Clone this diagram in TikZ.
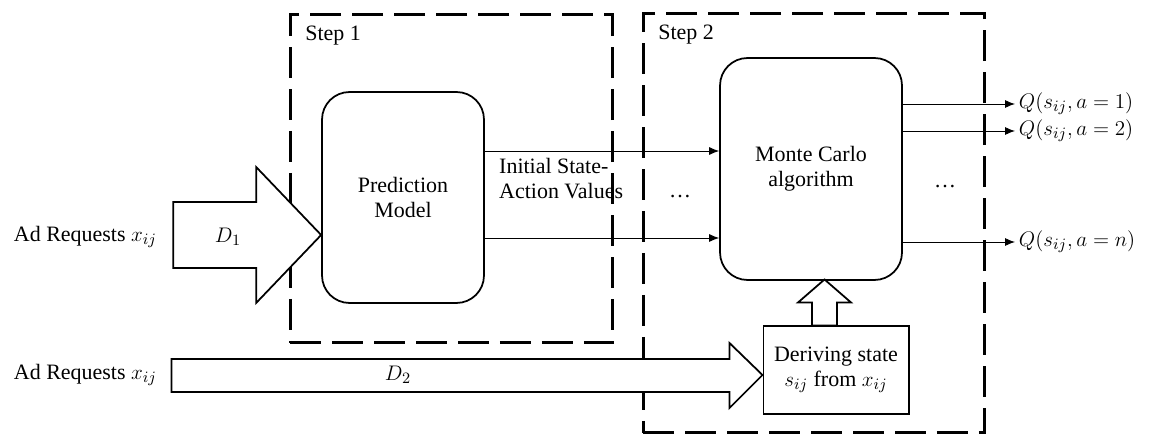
\documentclass[tikz,border=0pt]{standalone}
\usepackage{fontspec}
\setmainfont{Liberation Serif}
\usetikzlibrary{positioning,arrows.meta}

\begin{document}
\begin{tikzpicture}[x=0.02cm, y=-0.02cm,
		every node/.style={font=\fontsize{12.5}{14}\selectfont},
		stepbox/.style={draw, line width=1.7pt, dash pattern=on 0.62cm off 0.22cm},
		modelbox/.style={draw, line width=1pt, rounded corners=0.55cm, align=center},
		bigarrow/.style={draw, line width=1pt, fill=white},
		flow/.style={-{Latex[length=2mm,width=1.6mm]}, line width=0.5pt}]
		\useasboundingbox (0,0) rectangle (1151,438);

		% Step frames
		\node[stepbox, minimum width=6.46cm, minimum height=6.58cm] (step1) at (451.5,178.5) {};
		\node[stepbox, minimum width=6.84cm, minimum height=8.4cm] (step2) at (814,223) {};
		\node[below right=0.27cm and 0.33cm of step1.north west, inner sep=0] (lab1) {Step 1};
		\node[below right=0.27cm and 0.33cm of step2.north west, inner sep=0] (lab2) {Step 2};

		% Boxes
		\node[modelbox, minimum width=3.24cm, minimum height=4.22cm] (pm) at (403,197.5) {Prediction\\Model};
		\node[modelbox, minimum width=3.64cm, minimum height=4.44cm] (mc) at (811,169) {Monte Carlo\\algorithm};
		\node[draw, line width=0.6pt, minimum width=2.92cm, minimum height=1.76cm, align=center] (der) at (836,370) {Deriving state\\$s_{ij}$ from $x_{ij}$};

		% Inputs
		\node[anchor=east] (req1) at (163,237) {Ad Requests $x_{ij}$};
		\node[anchor=east] (req2) at (163,375) {Ad Requests $x_{ij}$};

		% Big arrows
		\draw[bigarrow] ([yshift=-0.75cm]pm.west) -- ++(-65,-68) -- ++(0,35) -- ++(-83,0) -- ++(0,66) -- ++(83,0) -- ++(0,35) -- cycle;
		\node (d1) at (228,237) {$D_1$};
		\draw[bigarrow] ([yshift=-0.1cm]der.west) -- ++(-33,-32) -- ++(0,16) -- ++(-558,0) -- ++(0,33) -- ++(558,0) -- ++(0,16) -- cycle;
		\node (d2) at (398,375) {$D_2$};
		\draw[bigarrow] ([xshift=-0.48cm]der.north) -- ++(0,-23) -- ++(-14,0) -- ++(26.5,-23) -- ++(26.5,23) -- ++(-14,0) -- ++(0,23) -- cycle;

		% State-action values into Monte Carlo
		\coordinate (sa1) at ([yshift=0.93cm]pm.east);
		\coordinate (sa2) at ([yshift=-0.81cm]pm.east);
		\draw[flow] (sa1) -- (sa1 -| mc.west);
		\draw[flow] (sa2) -- (sa2 -| mc.west);
		\node[below right=0.14cm and 0.28cm of sa1, align=left, inner sep=0] (init) {Initial State-\\Action Values};
		\node (dots1) at (680,197) {\dots};

		% Outputs
		\coordinate (q1) at (1015,104);
		\coordinate (q2) at (1015,131);
		\coordinate (qn) at (1015,242);
		\draw[flow] (q1 -| mc.east) -- (q1) node[right, inner sep=2pt] {$Q(s_{ij},a=1)$};
		\draw[flow] (q2 -| mc.east) -- (q2) node[right, inner sep=2pt] {$Q(s_{ij},a=2)$};
		\draw[flow] (qn -| mc.east) -- (qn) node[right, inner sep=2pt] {$Q(s_{ij},a=n)$};
		\node (dots2) at (945,187) {\dots};
	\end{tikzpicture}
\end{document}
